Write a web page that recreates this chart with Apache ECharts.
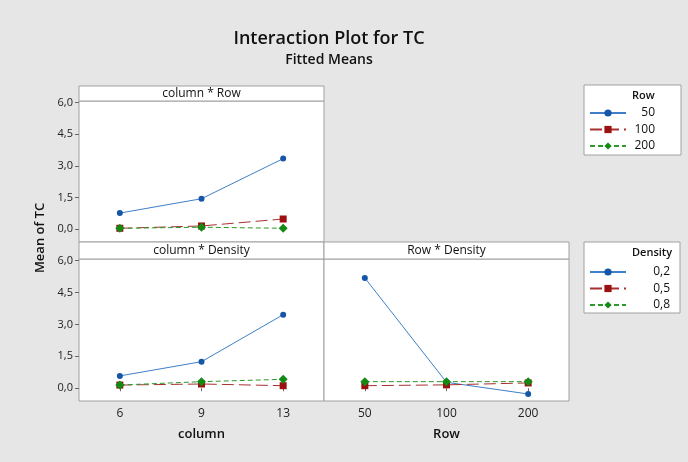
<!DOCTYPE html>
<html lang="en">
<head>
    <meta charset="UTF-8">
    <title>Interaction Plot for TC</title>
    <script src="https://cdn.jsdelivr.net/npm/echarts@6/dist/echarts.min.js"></script>
    <style>
        html, body { margin: 0; padding: 0; background: #e6e6e6; }
        #chart { width: 688px; height: 462px; }
    </style>
</head>
<body>
<div id="chart"></div>
<script type="application/javascript">
    // factor levels
    var columnLevels = ['6', '9', '13'];
    var rowLevels = ['50', '100', '200'];
    var rowNames = ['50', '100', '200'];
    var densityNames = ['0,2', '0,5', '0,8'];

    // fitted means, one array per trace level
    var colRow50 = [0.77, 1.45, 3.35];
    var colRow100 = [0.05, 0.16, 0.49];
    var colRow200 = [0.05, 0.10, 0.05];

    var colDens02 = [0.58, 1.25, 3.46];
    var colDens05 = [0.15, 0.20, 0.12];
    var colDens08 = [0.15, 0.31, 0.42];

    var rowDens02 = [5.19, 0.28, -0.27];
    var rowDens05 = [0.12, 0.16, 0.25];
    var rowDens08 = [0.31, 0.31, 0.31];

    var yTicks = [0, 1.5, 3, 4.5, 6];

    var font = 'Open Sans';
    var border = '#a0a0a0';
    var styles = [
        {line: '#3f7fc8', mark: '#1656a8', symbol: 'circle', size: 6, type: 'solid'},
        {line: '#a83030', mark: '#9b1010', symbol: 'rect', size: 7, type: [12, 5]},
        {line: '#2a9a2a', mark: '#138a13', symbol: 'diamond', size: 9, type: [5, 3]}
    ];

    function mkSeries(name, data, idx, s) {
        var st = styles[s];
        return {
            name: name, type: 'line', data: data,
            xAxisIndex: idx, yAxisIndex: idx,
            symbol: st.symbol, symbolSize: st.size,
            lineStyle: {color: st.line, width: 1, type: st.type},
            itemStyle: {color: st.mark},
            z: 2 + s, animation: false
        };
    }

    function yAxis(idx, labels) {
        return {
            gridIndex: idx, type: 'value', min: -0.6, max: 6.08,
            splitLine: {show: false},
            axisLine: {show: false},
            axisTick: {show: labels, length: 4, lineStyle: {color: '#666'}, customValues: yTicks},
            axisLabel: {
                show: labels, customValues: yTicks, color: '#222', fontFamily: font, fontSize: 11, margin: 6,
                formatter: function (v) { return v.toFixed(1).replace('.', ','); }
            }
        };
    }

    function xAxis(idx, cats, labels, name) {
        return {
            gridIndex: idx, type: 'category', data: cats, boundaryGap: true,
            axisLine: {show: false},
            axisTick: {show: labels, alignWithLabel: true, length: 3, lineStyle: {color: '#666'}},
            axisLabel: {show: labels, color: '#222', fontFamily: font, fontSize: 12, margin: 7},
            name: name, nameLocation: 'middle', nameGap: 27,
            nameTextStyle: {color: '#111', fontFamily: font, fontSize: 13, fontWeight: 600}
        };
    }

    function strip(x, y, w, h, text) {
        return [
            {type: 'rect', shape: {x: x, y: y, width: w, height: h}, style: {fill: '#fff', stroke: border, lineWidth: 1}, z: 1},
            {type: 'text', x: x + w / 2, y: y + h / 2 + 0.5, style: {text: text, fill: '#111', font: '12px ' + font, textAlign: 'center', textVerticalAlign: 'middle'}, z: 2}
        ];
    }

    function legendBox(x, y, w, h, title) {
        return [
            {type: 'rect', shape: {x: x, y: y, width: w, height: h}, style: {fill: '#fff', stroke: border, lineWidth: 1}, z: 1},
            {type: 'text', x: 632, y: y + 11, style: {text: title, fill: '#111', font: '600 11px ' + font, textAlign: 'left', textVerticalAlign: 'middle'}, z: 2}
        ];
    }

    function legend(names, top, textW) {
        return {
            data: names, orient: 'vertical', left: 589, top: top, padding: 0,
            itemWidth: 36, itemHeight: 9, itemGap: 4.5, selectedMode: false,
            formatter: function (n) { return '{a|' + n + '}'; },
            textStyle: {rich: {a: {width: textW, align: 'right', color: '#111', fontFamily: font, fontSize: 12}}}
        };
    }

    var chart = echarts.init(document.getElementById('chart'));
    var option = {
        backgroundColor: '#e6e6e6',
        animation: false,
        title: [{
            text: 'Interaction Plot for TC', subtext: 'Fitted Means', left: 324, top: 25, textAlign: 'center', itemGap: 5,
            textStyle: {fontFamily: font, fontSize: 18, fontWeight: 600, color: '#111'},
            subtextStyle: {fontFamily: font, fontSize: 14, fontWeight: 600, color: '#111'}
        }],
        grid: [
            {left: 79, top: 101, width: 245, height: 141, show: true, backgroundColor: '#fff', borderColor: border, borderWidth: 1},
            {left: 79, top: 259, width: 245, height: 142, show: true, backgroundColor: '#fff', borderColor: border, borderWidth: 1},
            {left: 324, top: 259, width: 245, height: 142, show: true, backgroundColor: '#fff', borderColor: border, borderWidth: 1}
        ],
        xAxis: [
            xAxis(0, columnLevels, false, ''),
            xAxis(1, columnLevels, true, 'column'),
            xAxis(2, rowLevels, true, 'Row')
        ],
        yAxis: [yAxis(0, true), yAxis(1, true), yAxis(2, false)],
        legend: [legend(rowNames, 107, 24), legend(densityNames, 266, 39)],
        graphic: [].concat(
            strip(79, 86, 245, 15, 'column * Row'),
            strip(79, 242, 245, 17, 'column * Density'),
            strip(324, 242, 245, 17, 'Row * Density'),
            legendBox(584, 85, 97, 70, 'Row'),
            legendBox(584, 242, 96, 71, 'Density'),
            [{type: 'text', x: 40, y: 238, rotation: Math.PI / 2,
                style: {text: 'Mean of TC', fill: '#111', font: '600 13px ' + font, textAlign: 'center', textVerticalAlign: 'middle'}}]
        ),
        series: [
            mkSeries(rowNames[0], colRow50, 0, 0),
            mkSeries(rowNames[1], colRow100, 0, 1),
            mkSeries(rowNames[2], colRow200, 0, 2),
            mkSeries(densityNames[0], colDens02, 1, 0),
            mkSeries(densityNames[1], colDens05, 1, 1),
            mkSeries(densityNames[2], colDens08, 1, 2),
            mkSeries(densityNames[0], rowDens02, 2, 0),
            mkSeries(densityNames[1], rowDens05, 2, 1),
            mkSeries(densityNames[2], rowDens08, 2, 2)
        ]
    };
    chart.setOption(option);
</script>
</body>
</html>
